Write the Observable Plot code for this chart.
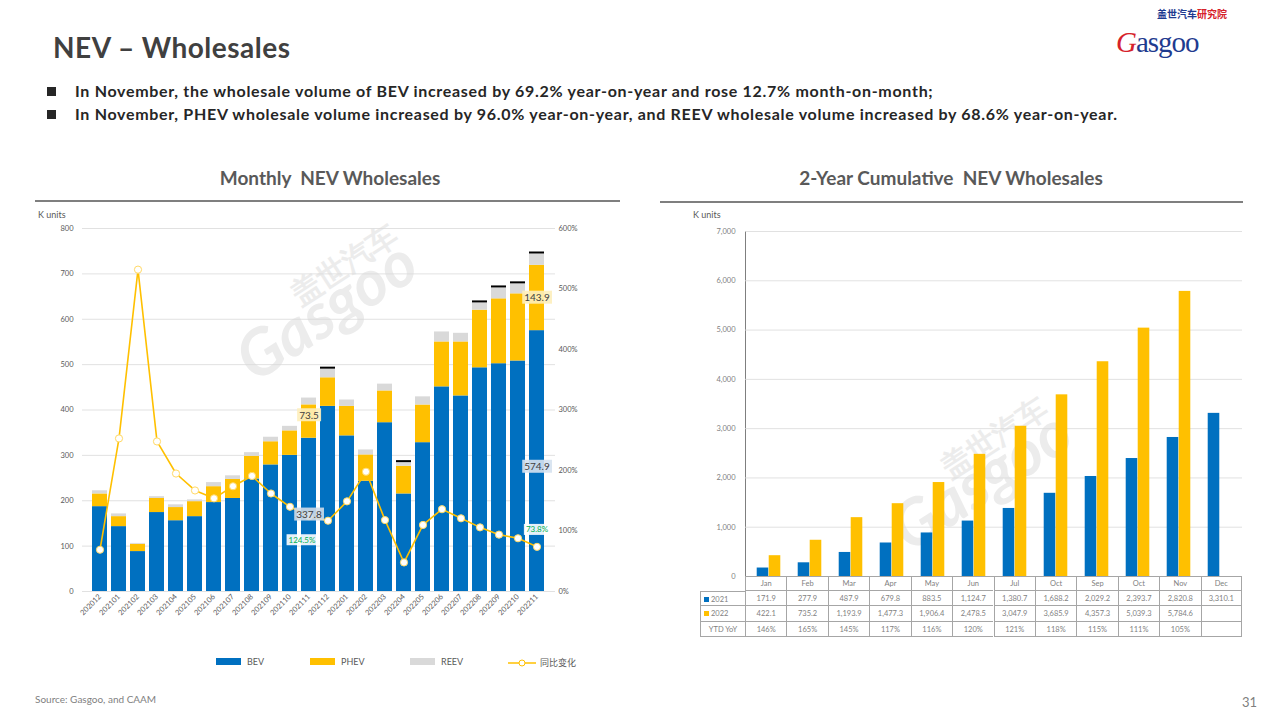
<!DOCTYPE html>
<html><head><meta charset="utf-8">
<script src="https://cdn.jsdelivr.net/npm/d3@7"></script>
<script src="https://cdn.jsdelivr.net/npm/@observablehq/plot@0.6"></script>
<style>
body{margin:0;width:1280px;height:720px;position:relative;overflow:hidden;background:#fff;font-family:Lato,"Open Sans",sans-serif;}
.abs{position:absolute;white-space:nowrap;}
.title{left:53px;top:30px;font-size:28px;letter-spacing:0.5px;font-weight:700;color:#404040;}
.bullet{left:47px;font-size:16px;letter-spacing:0.7px;font-weight:700;color:#262626;}
.bullet span.sq{display:inline-block;width:9px;height:9px;background:#262626;margin-right:19px;vertical-align:1px;}
.ctitle{font-size:19px;font-weight:700;color:#595959;transform:translateX(-50%);}
.divider{height:1.5px;background:#7f7f7f;}
.kunits{font-size:9px;color:#595959;}
.legend{top:656px;font-size:9px;color:#595959;display:flex;align-items:center;}
.sw{display:inline-block;width:25px;height:7px;margin-right:6px;}
.cell{position:absolute;font-size:7.5px;color:#7f7f7f;text-align:center;box-sizing:border-box;}
.wm{color:#ececec;font-weight:700;transform-origin:center;}
</style></head><body>

<div class="abs wm" style="left:225px;top:270px;font-size:64px;transform:rotate(-33deg);font-style:italic;">Gasgoo</div>
<div class="abs wm" style="left:285px;top:245px;font-size:30px;transform:rotate(-33deg);">盖世汽车</div>
<div class="abs wm" style="left:880px;top:440px;font-size:64px;transform:rotate(-33deg);font-style:italic;">Gasgoo</div>
<div class="abs wm" style="left:935px;top:418px;font-size:30px;transform:rotate(-33deg);">盖世汽车</div>

<div class="abs title">NEV – Wholesales</div>
<div class="abs" style="left:1157px;top:9px;font-size:10px;line-height:10px;font-weight:700;color:#1f3b8f;font-family:'Noto Sans CJK SC';">盖世汽车<span style="color:#d6212a">研究院</span></div>
<div class="abs" style="left:1116px;top:29px;font-size:29px;line-height:26px;color:#1f3b8f;font-family:'Liberation Serif',serif;letter-spacing:-1px;"><span style="color:#d6212a;font-style:italic;">G</span>asgoo</div>

<div class="abs bullet" style="top:81px;"><span class="sq"></span>In November, the wholesale volume of BEV increased by 69.2% year-on-year and rose 12.7% month-on-month;</div>
<div class="abs bullet" style="top:104px;"><span class="sq"></span>In November, PHEV wholesale volume increased by 96.0% year-on-year, and REEV wholesale volume increased by 68.6% year-on-year.</div>

<div class="abs ctitle" style="left:330px;top:166px;">Monthly&nbsp; NEV Wholesales</div>
<div class="abs ctitle" style="left:951px;top:166px;">2-Year Cumulative&nbsp; NEV Wholesales</div>
<div class="abs divider" style="left:35px;top:200px;width:585px;"></div>
<div class="abs divider" style="left:660px;top:201px;width:583px;"></div>
<div class="abs kunits" style="left:38px;top:209px;">K units</div>
<div class="abs kunits" style="left:693px;top:209px;">K units</div>

<div id="left" class="abs" style="left:30px;top:205px;"></div>
<div id="right" class="abs" style="left:660px;top:205px;"></div>
<div id="table" class="abs" style="left:0;top:0;"></div>

<div class="abs legend" style="left:216px;"><span class="sw" style="background:#0070C0"></span>BEV</div>
<div class="abs legend" style="left:310px;"><span class="sw" style="background:#FFC000"></span>PHEV</div>
<div class="abs legend" style="left:410px;"><span class="sw" style="background:#D9D9D9"></span>REEV</div>
<div class="abs legend" style="left:508px;"><svg width="28" height="10" style="margin-right:4px"><line x1="0" y1="5" x2="28" y2="5" stroke="#FFC000" stroke-width="1.5"/><circle cx="14" cy="5" r="3" fill="#fff" stroke="#FFC000"/></svg><span style="font-family:'Noto Sans CJK SC'">同比变化</span></div>

<div class="abs" style="left:35px;top:693px;font-size:10px;color:#7f7f7f;">Source: Gasgoo, and CAAM</div>
<div class="abs" style="left:1242px;top:694px;font-size:13px;color:#7f7f7f;">31</div>

<script>
// ---------- Left chart data ----------
const months = ["202012","202101","202102","202103","202104","202105","202106","202107","202108","202109","202110","202111",
                "202112","202201","202202","202203","202204","202205","202206","202207","202208","202209","202210","202211"];
const bev  = [187,143,88,174,156,165,196,205,248,279,300,337.8,408,343,243,372,215,328,451,431,493,502,508,574.9];
const phev = [28,22,16,31,29,33,35,42,50,51,54,73.5,63,65,58,70,61,83,99,119,127,143,148,143.9];
const reev = [7,6,2,4,6,4,9,8,8,10,10,15,19,14,11,15,8,18,22,19,16,24,22,25];
const yoy  = [69,253,532,248,195,167,154,174,191,162,140,124.5,117,149,198,118,48,110,136,121,106,94,88,73.8];
const totalMarked = ["202112","202204","202208","202209","202210","202211"];
const leftTicks = [0,100,200,300,400,500,600,700,800];
const pctTicks = [0,100,200,300,400,500,600];
const seriesNames = ["BEV","PHEV","REEV"];
const seriesColors = ["#0070C0","#FFC000","#D9D9D9"];
const labelsLeft = [
  {m:"202111", kind:"PHEV", text:"73.5"},
  {m:"202111", kind:"BEV", text:"337.8"},
  {m:"202111", kind:"YOY", text:"124.5%"},
  {m:"202211", kind:"PHEV", text:"143.9"},
  {m:"202211", kind:"BEV", text:"574.9"},
  {m:"202211", kind:"YOY", text:"73.8%"}
];

// ---------- Right chart data ----------
const cumMonths = ["Jan","Feb","Mar","Apr","May","Jun","Jul","Oct","Sep","Oct","Nov","Dec"];
const cum2021 = [171.9,277.9,487.9,679.8,883.5,1124.7,1380.7,1688.2,2029.2,2393.7,2820.8,3310.1];
const cum2022 = [422.1,735.2,1193.9,1477.3,1906.4,2478.5,3047.9,3685.9,4357.3,5039.3,5784.6,null];
const ytdYoY = ["146%","165%","145%","117%","116%","120%","121%","118%","115%","111%","105%",""];
const rightTicks = [0,1000,2000,3000,4000,5000,6000,7000];

// ---------- Left chart ----------
const ratio = 800/600;
const stackData = months.flatMap((m,i)=>[
  {m, type:"BEV", v:bev[i]}, {m, type:"PHEV", v:phev[i]}, {m, type:"REEV", v:reev[i]}]);
const lineData = months.map((m,i)=>({m, p:yoy[i]}));
const totals = months.map((m,i)=>({m, t:bev[i]+phev[i]+reev[i]})).filter(d=>totalMarked.includes(d.m));
const idx = m => months.indexOf(m);
const lab = labelsLeft.map(d=>{
  const i = idx(d.m);
  let y, fill="#404040", bg, dy=0, dx=0, size=10;
  if (d.kind==="BEV"){ y = bev[i]/2; bg = i===11 ? "#d0dbe8" : "#d6e2f0"; dy = (i===11?0:6);}
  else if (d.kind==="PHEV"){ y = bev[i]+phev[i]/2; bg = "#fdeebb"; dy = (i===11?-6:0);}
  else { y = yoy[i]*ratio; fill="#00B050"; bg="#ffffff"; size=8; dy = (i===11?24:-17); dx = (i===11?-7:0);}
  return {m:d.m, y, text:d.text, fill, bg, dy, dx, size};
});

const left = Plot.plot({
  width:590, height:435, marginLeft:52, marginRight:65, marginTop:23, marginBottom:49,
  style:{fontFamily:"Lato, 'Open Sans', sans-serif", fontSize:"7.5px", color:"#595959", background:"transparent", overflow:"visible"},
  x:{domain:months, padding:0.19, tickSize:0, tickRotate:-45, tickPadding:4, label:null},
  y:{domain:[0,800], ticks:leftTicks, tickSize:0, tickPadding:9, label:null},
  color:{domain:seriesNames, range:seriesColors},
  marks:[
    Plot.ruleY(leftTicks, {stroke:"#d9d9d9", strokeWidth:0.8}),
    Plot.barY(stackData, {x:"m", y:"v", fill:"type"}),
    Plot.tickY(totals, {x:"m", y:"t", stroke:"#000", strokeWidth:2, dy:-1.5}),
    Plot.line(lineData, {x:"m", y:d=>d.p*ratio, stroke:"#FFC000", strokeWidth:1.6}),
    Plot.dot(lineData, {x:"m", y:d=>d.p*ratio, r:3.6, fill:"#fff", stroke:"#FFD966", strokeWidth:1}),
    Plot.text(pctTicks, {y:d=>d*ratio, text:d=>d+"%", frameAnchor:"right", textAnchor:"start", dx:3, fill:"#595959"}),
    ...lab.map(d=>Plot.text([d], {x:"m", y:"y", text:"text", fill:d.fill, dy:d.dy, dx:d.dx, fontSize:d.size, ariaLabel:()=>"box:"+d.bg}))
  ]
});
document.getElementById("left").appendChild(left);

// add boxes behind labelled texts
document.querySelectorAll('#left text[aria-label^="box:"]').forEach(t=>{
  const bg = t.getAttribute("aria-label").slice(4);
  const b = t.getBBox();
  const r = document.createElementNS("http://www.w3.org/2000/svg","rect");
  r.setAttribute("x", b.x-2); r.setAttribute("y", b.y-0.5);
  r.setAttribute("width", b.width+4); r.setAttribute("height", b.height+1);
  r.setAttribute("fill", bg); r.setAttribute("fill-opacity", 0.9);
  const tr = t.getAttribute("transform"); if (tr) r.setAttribute("transform", tr);
  t.parentNode.insertBefore(r, t);
});

// ---------- Right chart ----------
const RW=600, RH=441, RML=85, RMR=18, RMT=26, RMB=70;
const step = (RW-RML-RMR)/12, barW = 12;
const d21 = cum2021.map((v,i)=>({i, v})).filter(d=>d.v!=null);
const d22 = cum2022.map((v,i)=>({i, v})).filter(d=>d.v!=null);
const right = Plot.plot({
  width:RW, height:RH, marginLeft:RML, marginRight:RMR, marginTop:RMT, marginBottom:RMB,
  style:{fontFamily:"Lato, 'Open Sans', sans-serif", fontSize:"7.5px", color:"#7f7f7f", background:"transparent", overflow:"visible"},
  x:{domain:d3.range(12), padding:0, axis:null},
  y:{domain:[0,7000], ticks:rightTicks, tickSize:0, tickPadding:10, tickFormat:d3.format(","), label:null, line:true},
  marks:[
    Plot.ruleY(rightTicks.slice(1), {stroke:"#d9d9d9", strokeWidth:0.8}),
    Plot.barY(d21, {x:"i", y:"v", fill:"#0070C0", insetLeft:step/2-barW, insetRight:step/2}),
    Plot.barY(d22, {x:"i", y:"v", fill:"#FFC000", insetLeft:step/2, insetRight:step/2-barW}),
    Plot.ruleY([0], {stroke:"#a6a6a6"})
  ]
});
document.getElementById("right").appendChild(right);

// ---------- Data table under the right chart ----------
const tbl = d3.select("#table");
const tx0 = 660+RML, ty0 = 205+RH-RMB; // plot frame bottom-left
const rowH = [15,15,16,15];
const rowY = [0,15,30,46,61];
const labelX = tx0-45;
const line = "1px solid #a6a6a6";
const rows = [
  {label:"", vals:cumMonths},
  {label:"2021", sw:"#0070C0", vals:cum2021.map(v=>v==null?"":d3.format(",.1f")(v))},
  {label:"2022", sw:"#FFC000", vals:cum2022.map(v=>v==null?"":d3.format(",.1f")(v))},
  {label:"YTD YoY", vals:ytdYoY}
];
rows.forEach((r,ri)=>{
  const top = ty0+rowY[ri], h = rowH[ri];
  if (ri>0) {
    tbl.append("div").attr("class","cell")
      .style("left",labelX+"px").style("top",top+"px").style("width","45px").style("height",h+"px")
      .style("line-height",h+"px").style("text-align", r.sw ? "left":"center").style("padding-left", r.sw?"3px":"0")
      .style("border-left",line).style("border-bottom",line).style("border-top", ri===1?line:"none")
      .html(r.sw ? `<span style="display:inline-block;width:5px;height:5px;background:${r.sw};margin-right:2px;vertical-align:0px"></span>${r.label}` : r.label);
  }
  r.vals.forEach((v,ci)=>{
    tbl.append("div").attr("class","cell")
      .style("left",(tx0+ci*step)+"px").style("top",top+"px").style("width",step+"px").style("height",h+"px")
      .style("line-height",h+"px")
      .style("border-left",line).style("border-bottom",line).style("border-right", ci===11?line:"none")
      .text(v);
  });
});
</script>
</body></html>
